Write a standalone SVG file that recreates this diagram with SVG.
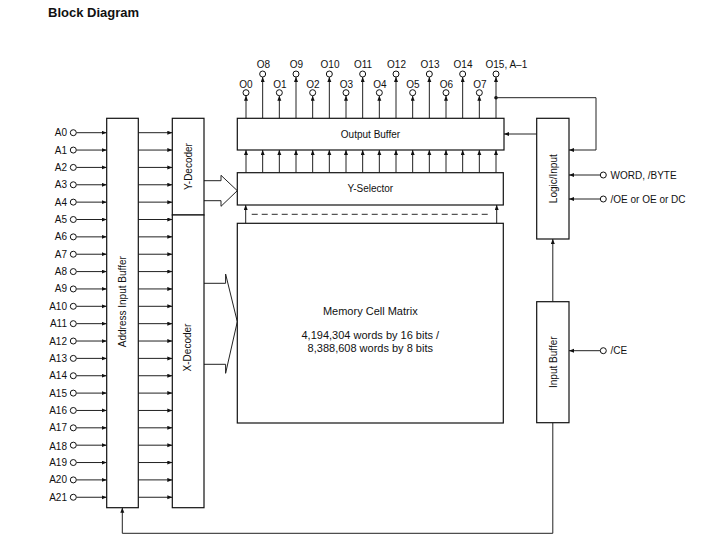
<svg xmlns="http://www.w3.org/2000/svg" width="713" height="544" viewBox="0 0 713 544">
<defs>
<marker id="ah" markerWidth="6" markerHeight="5" refX="5" refY="2" orient="auto" markerUnits="userSpaceOnUse">
<path d="M0,0 L5,2 L0,4 z" fill="#111"/>
</marker>
<style>
.t{font-family:"Liberation Sans",Arial,sans-serif;font-size:10px;fill:#111}
.m{font-size:11px}
.c{text-anchor:middle}
.r{text-anchor:end}
.box{fill:#fff;stroke:#111;stroke-width:1.2}
.ln{fill:none;stroke:#222;stroke-width:1}
.arr{fill:none;stroke:#222;stroke-width:1;marker-end:url(#ah)}
.pin{fill:#fff;stroke:#111;stroke-width:1}
</style>
</defs>
<rect width="713" height="544" fill="#fff"/>
<text x="48" y="17" style="font-family:'Liberation Sans',Arial,sans-serif;font-size:13px;font-weight:bold;fill:#111">Block Diagram</text>

<g id="connectors">
<!-- address inputs -->
<g id="addr-in">
<line class="arr" x1="76.5" y1="132.7" x2="106.7" y2="132.7"/>
<line class="arr" x1="76.5" y1="150.06" x2="106.7" y2="150.06"/>
<line class="arr" x1="76.5" y1="167.42" x2="106.7" y2="167.42"/>
<line class="arr" x1="76.5" y1="184.78" x2="106.7" y2="184.78"/>
<line class="arr" x1="76.5" y1="202.14" x2="106.7" y2="202.14"/>
<line class="arr" x1="76.5" y1="219.5" x2="106.7" y2="219.5"/>
<line class="arr" x1="76.5" y1="236.86" x2="106.7" y2="236.86"/>
<line class="arr" x1="76.5" y1="254.22" x2="106.7" y2="254.22"/>
<line class="arr" x1="76.5" y1="271.58" x2="106.7" y2="271.58"/>
<line class="arr" x1="76.5" y1="288.94" x2="106.7" y2="288.94"/>
<line class="arr" x1="76.5" y1="306.3" x2="106.7" y2="306.3"/>
<line class="arr" x1="76.5" y1="323.66" x2="106.7" y2="323.66"/>
<line class="arr" x1="76.5" y1="341.02" x2="106.7" y2="341.02"/>
<line class="arr" x1="76.5" y1="358.38" x2="106.7" y2="358.38"/>
<line class="arr" x1="76.5" y1="375.74" x2="106.7" y2="375.74"/>
<line class="arr" x1="76.5" y1="393.1" x2="106.7" y2="393.1"/>
<line class="arr" x1="76.5" y1="410.46" x2="106.7" y2="410.46"/>
<line class="arr" x1="76.5" y1="427.82" x2="106.7" y2="427.82"/>
<line class="arr" x1="76.5" y1="445.18" x2="106.7" y2="445.18"/>
<line class="arr" x1="76.5" y1="462.54" x2="106.7" y2="462.54"/>
<line class="arr" x1="76.5" y1="479.9" x2="106.7" y2="479.9"/>
<line class="arr" x1="76.5" y1="497.26" x2="106.7" y2="497.26"/>
</g>
<!-- buffer to decoders -->
<g id="addr-dec">
<line class="arr" x1="138.3" y1="132.7" x2="172.3" y2="132.7"/>
<line class="arr" x1="138.3" y1="150.06" x2="172.3" y2="150.06"/>
<line class="arr" x1="138.3" y1="167.42" x2="172.3" y2="167.42"/>
<line class="arr" x1="138.3" y1="184.78" x2="172.3" y2="184.78"/>
<line class="arr" x1="138.3" y1="202.14" x2="172.3" y2="202.14"/>
<line class="arr" x1="138.3" y1="219.5" x2="172.3" y2="219.5"/>
<line class="arr" x1="138.3" y1="236.86" x2="172.3" y2="236.86"/>
<line class="arr" x1="138.3" y1="254.22" x2="172.3" y2="254.22"/>
<line class="arr" x1="138.3" y1="271.58" x2="172.3" y2="271.58"/>
<line class="arr" x1="138.3" y1="288.94" x2="172.3" y2="288.94"/>
<line class="arr" x1="138.3" y1="306.3" x2="172.3" y2="306.3"/>
<line class="arr" x1="138.3" y1="323.66" x2="172.3" y2="323.66"/>
<line class="arr" x1="138.3" y1="341.02" x2="172.3" y2="341.02"/>
<line class="arr" x1="138.3" y1="358.38" x2="172.3" y2="358.38"/>
<line class="arr" x1="138.3" y1="375.74" x2="172.3" y2="375.74"/>
<line class="arr" x1="138.3" y1="393.1" x2="172.3" y2="393.1"/>
<line class="arr" x1="138.3" y1="410.46" x2="172.3" y2="410.46"/>
<line class="arr" x1="138.3" y1="427.82" x2="172.3" y2="427.82"/>
<line class="arr" x1="138.3" y1="445.18" x2="172.3" y2="445.18"/>
<line class="arr" x1="138.3" y1="462.54" x2="172.3" y2="462.54"/>
<line class="arr" x1="138.3" y1="479.9" x2="172.3" y2="479.9"/>
<line class="arr" x1="138.3" y1="497.26" x2="172.3" y2="497.26"/>
</g>
<!-- outputs -->
<g id="outputs">
<line class="arr" x1="246" y1="118.3" x2="246" y2="95.7"/>
<line class="arr" x1="262.67" y1="118.3" x2="262.67" y2="77"/>
<line class="arr" x1="279.33" y1="118.3" x2="279.33" y2="95.7"/>
<line class="arr" x1="296" y1="118.3" x2="296" y2="77"/>
<line class="arr" x1="312.67" y1="118.3" x2="312.67" y2="95.7"/>
<line class="arr" x1="329.33" y1="118.3" x2="329.33" y2="77"/>
<line class="arr" x1="346" y1="118.3" x2="346" y2="95.7"/>
<line class="arr" x1="362.67" y1="118.3" x2="362.67" y2="77"/>
<line class="arr" x1="379.33" y1="118.3" x2="379.33" y2="95.7"/>
<line class="arr" x1="396" y1="118.3" x2="396" y2="77"/>
<line class="arr" x1="412.67" y1="118.3" x2="412.67" y2="95.7"/>
<line class="arr" x1="429.33" y1="118.3" x2="429.33" y2="77"/>
<line class="arr" x1="446" y1="118.3" x2="446" y2="95.7"/>
<line class="arr" x1="462.67" y1="118.3" x2="462.67" y2="77"/>
<line class="arr" x1="479.33" y1="118.3" x2="479.33" y2="95.7"/>
<line class="arr" x1="496" y1="118.3" x2="496" y2="77"/>
</g>
<!-- Y-selector to output buffer -->
<g id="sel-out">
<line class="arr" x1="246" y1="172.7" x2="246" y2="150"/>
<line class="arr" x1="262.67" y1="172.7" x2="262.67" y2="150"/>
<line class="arr" x1="279.33" y1="172.7" x2="279.33" y2="150"/>
<line class="arr" x1="296" y1="172.7" x2="296" y2="150"/>
<line class="arr" x1="312.67" y1="172.7" x2="312.67" y2="150"/>
<line class="arr" x1="329.33" y1="172.7" x2="329.33" y2="150"/>
<line class="arr" x1="346" y1="172.7" x2="346" y2="150"/>
<line class="arr" x1="362.67" y1="172.7" x2="362.67" y2="150"/>
<line class="arr" x1="379.33" y1="172.7" x2="379.33" y2="150"/>
<line class="arr" x1="396" y1="172.7" x2="396" y2="150"/>
<line class="arr" x1="412.67" y1="172.7" x2="412.67" y2="150"/>
<line class="arr" x1="429.33" y1="172.7" x2="429.33" y2="150"/>
<line class="arr" x1="446" y1="172.7" x2="446" y2="150"/>
<line class="arr" x1="462.67" y1="172.7" x2="462.67" y2="150"/>
<line class="arr" x1="479.33" y1="172.7" x2="479.33" y2="150"/>
<line class="arr" x1="496" y1="172.7" x2="496" y2="150"/>
</g>
<!-- memory to Y-selector -->
<line class="arr" x1="245.7" y1="223.3" x2="245.7" y2="205"/>
<line class="arr" x1="496.7" y1="223.3" x2="496.7" y2="205"/>
<line x1="251.7" y1="214.3" x2="491.7" y2="214.3" stroke="#555" stroke-width="1.2" stroke-dasharray="6,4"/>
<!-- big arrows -->
<polyline class="ln" points="204,180.7 221,180.7 221,175.3 237.3,190.7 221,206.3 221,200.7 204,200.7" fill="#fff" style="fill:#fff"/>
<polyline class="ln" points="203.3,283.3 225.6,283.3 225.6,274 237.3,321.7 225.6,373.3 225.6,364.3 203.3,364.3"/>
<!-- O15/A-1 feedback to logic -->
<circle cx="496" cy="97.7" r="1.8" fill="#111"/>
<polyline class="arr" points="496,97.7 596,97.7 596,150 569,150"/>
<!-- logic to output buffer -->
<line class="arr" x1="536.7" y1="134" x2="504" y2="134"/>
<!-- control inputs -->
<line class="arr" x1="600.3" y1="175" x2="569" y2="175"/>
<line class="arr" x1="600.3" y1="199" x2="569" y2="199"/>
<line class="arr" x1="600.3" y1="350.7" x2="569" y2="350.7"/>
<!-- input buffer to logic -->
<line class="arr" x1="552.8" y1="301.7" x2="552.8" y2="239"/>
<!-- input buffer to address buffer -->
<polyline class="arr" points="552.8,422.7 552.8,533.3 122.3,533.3 122.3,507.7"/>
</g>

<g id="addr-pins">
<circle class="pin" cx="73.3" cy="132.7" r="3"/><text class="t r" x="67" y="136.2">A0</text>
<circle class="pin" cx="73.3" cy="150.06" r="3"/><text class="t r" x="67" y="153.56">A1</text>
<circle class="pin" cx="73.3" cy="167.42" r="3"/><text class="t r" x="67" y="170.92">A2</text>
<circle class="pin" cx="73.3" cy="184.78" r="3"/><text class="t r" x="67" y="188.28">A3</text>
<circle class="pin" cx="73.3" cy="202.14" r="3"/><text class="t r" x="67" y="205.64">A4</text>
<circle class="pin" cx="73.3" cy="219.5" r="3"/><text class="t r" x="67" y="223">A5</text>
<circle class="pin" cx="73.3" cy="236.86" r="3"/><text class="t r" x="67" y="240.36">A6</text>
<circle class="pin" cx="73.3" cy="254.22" r="3"/><text class="t r" x="67" y="257.72">A7</text>
<circle class="pin" cx="73.3" cy="271.58" r="3"/><text class="t r" x="67" y="275.08">A8</text>
<circle class="pin" cx="73.3" cy="288.94" r="3"/><text class="t r" x="67" y="292.44">A9</text>
<circle class="pin" cx="73.3" cy="306.3" r="3"/><text class="t r" x="67" y="309.8">A10</text>
<circle class="pin" cx="73.3" cy="323.66" r="3"/><text class="t r" x="67" y="327.16">A11</text>
<circle class="pin" cx="73.3" cy="341.02" r="3"/><text class="t r" x="67" y="344.52">A12</text>
<circle class="pin" cx="73.3" cy="358.38" r="3"/><text class="t r" x="67" y="361.88">A13</text>
<circle class="pin" cx="73.3" cy="375.74" r="3"/><text class="t r" x="67" y="379.24">A14</text>
<circle class="pin" cx="73.3" cy="393.1" r="3"/><text class="t r" x="67" y="396.6">A15</text>
<circle class="pin" cx="73.3" cy="410.46" r="3"/><text class="t r" x="67" y="413.96">A16</text>
<circle class="pin" cx="73.3" cy="427.82" r="3"/><text class="t r" x="67" y="431.32">A17</text>
<circle class="pin" cx="73.3" cy="445.18" r="3"/><text class="t r" x="67" y="449.5">A18</text>
<circle class="pin" cx="73.3" cy="462.54" r="3"/><text class="t r" x="67" y="466.04">A19</text>
<circle class="pin" cx="73.3" cy="479.9" r="3"/><text class="t r" x="67" y="483.4">A20</text>
<circle class="pin" cx="73.3" cy="497.26" r="3"/><text class="t r" x="67" y="500.76">A21</text>
</g>

<g id="out-pins">
<circle class="pin" cx="246" cy="92.7" r="3"/><text class="t c" x="246" y="88">O0</text>
<circle class="pin" cx="262.67" cy="74" r="3"/><text class="t c" x="263.5" y="68">O8</text>
<circle class="pin" cx="279.33" cy="92.7" r="3"/><text class="t c" x="280" y="88">O1</text>
<circle class="pin" cx="296" cy="74" r="3"/><text class="t c" x="296.5" y="68">O9</text>
<circle class="pin" cx="312.67" cy="92.7" r="3"/><text class="t c" x="313" y="88">O2</text>
<circle class="pin" cx="329.33" cy="74" r="3"/><text class="t c" x="330" y="68">O10</text>
<circle class="pin" cx="346" cy="92.7" r="3"/><text class="t c" x="346.5" y="88">O3</text>
<circle class="pin" cx="362.67" cy="74" r="3"/><text class="t c" x="363" y="68">O11</text>
<circle class="pin" cx="379.33" cy="92.7" r="3"/><text class="t c" x="380" y="88">O4</text>
<circle class="pin" cx="396" cy="74" r="3"/><text class="t c" x="396.5" y="68">O12</text>
<circle class="pin" cx="412.67" cy="92.7" r="3"/><text class="t c" x="413" y="88">O5</text>
<circle class="pin" cx="429.33" cy="74" r="3"/><text class="t c" x="430" y="68">O13</text>
<circle class="pin" cx="446" cy="92.7" r="3"/><text class="t c" x="446.5" y="88">O6</text>
<circle class="pin" cx="462.67" cy="74" r="3"/><text class="t c" x="463" y="68">O14</text>
<circle class="pin" cx="479.33" cy="92.7" r="3"/><text class="t c" x="480" y="88">O7</text>
<circle class="pin" cx="496" cy="74" r="3"/><text class="t" x="485.5" y="68">O15, A–1</text>
</g>

<g id="ctrl-pins">
<circle class="pin" cx="603.3" cy="175" r="3"/><text class="t" x="610.5" y="178.5">WORD, /BYTE</text>
<circle class="pin" cx="603.3" cy="199" r="3"/><text class="t" x="610.5" y="202.5">/OE or OE or DC</text>
<circle class="pin" cx="603.3" cy="350.7" r="3"/><text class="t" x="610.5" y="354.2">/CE</text>
</g>

<g id="address-input-buffer">
<rect class="box" x="106.7" y="118.3" width="31.6" height="389.4"/>
<text class="t c" transform="translate(125.5,301.7) rotate(-90)">Address Input Buffer</text>
</g>
<g id="y-decoder">
<rect class="box" x="172.3" y="118.3" width="31.7" height="96.7"/>
<text class="t c" transform="translate(191.5,166.5) rotate(-90)">Y-Decoder</text>
</g>
<g id="x-decoder">
<rect class="box" x="172.3" y="215" width="31.7" height="292.7"/>
<text class="t c" transform="translate(191,347.5) rotate(-90)">X-Decoder</text>
</g>
<g id="output-buffer">
<rect class="box" x="237.3" y="118.3" width="266.7" height="31.7"/>
<text class="t c" x="370.5" y="137.5">Output Buffer</text>
</g>
<g id="y-selector">
<rect class="box" x="237.3" y="172.7" width="266" height="32.3"/>
<text class="t c" x="370.3" y="192.3">Y-Selector</text>
</g>
<g id="memory-cell-matrix">
<rect class="box" x="237.3" y="223.3" width="266" height="199.7"/>
<text class="t m c" x="370.3" y="315">Memory Cell Matrix</text>
<text class="t m c" x="370.3" y="338.5">4,194,304 words by 16 bits /</text>
<text class="t m c" x="370.3" y="351.5">8,388,608 words by 8 bits</text>
</g>
<g id="logic-input">
<rect class="box" x="536.7" y="118.3" width="32.3" height="120.7"/>
<text class="t c" transform="translate(556.5,178.7) rotate(-90)">Logic/Input</text>
</g>
<g id="input-buffer">
<rect class="box" x="536.7" y="301.7" width="32.3" height="121"/>
<text class="t c" transform="translate(556.5,362.2) rotate(-90)">Input Buffer</text>
</g>
</svg>
